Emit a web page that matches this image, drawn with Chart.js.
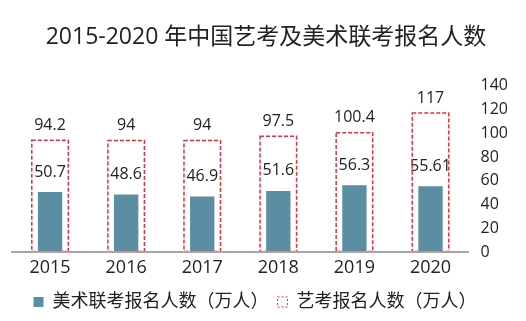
<!DOCTYPE html>
<html>
<head>
<meta charset="utf-8">
<script src="https://cdn.jsdelivr.net/npm/chart.js@4"></script>
<style>
  html, body { margin: 0; padding: 0; background: #fff; }
  #wrap { width: 526px; height: 321px; }
</style>
</head>
<body>
<div id="wrap"><canvas id="chart"></canvas></div>
<script>
// Data
const years = ['2015', '2016', '2017', '2018', '2019', '2020'];
const artExam = [94.2, 94, 94, 97.5, 100.4, 117];
const fineArtsJoint = [50.7, 48.6, 46.9, 51.6, 56.3, 55.61];
const yTicks = [0, 20, 40, 60, 80, 100, 120, 140];

const FONT = '"Open Sans", "Noto Sans CJK SC", sans-serif';
const TEXT = '#222222';
const BAR_COLOR = '#5b8ea3';
const BOX_COLOR = '#e3303c';

// draws dashed outline for the box dataset and value labels for both
const labelPlugin = {
    id: 'labels',
    afterLayout(chart) {
        // legend sits a bit left of centre in the original
        chart.legend.left -= 11;
        chart.legend.right -= 11;
    },
    afterDatasetsDraw(chart) {
        const ctx = chart.ctx;
        chart.data.datasets.forEach((ds, i) => {
            const meta = chart.getDatasetMeta(i);
            meta.data.forEach((el, j) => {
                const { x, y, base, width } = el.getProps(['x', 'y', 'base', 'width'], true);
                ctx.save();
                if (ds.dashedBox) {
                    ctx.strokeStyle = BOX_COLOR;
                    ctx.lineWidth = 1.5;
                    ctx.setLineDash([4, 2]);
                    ctx.strokeRect(x - width / 2, y, width, base - y - 1);
                }
                ctx.setLineDash([]);
                ctx.fillStyle = TEXT;
                ctx.font = '16px ' + FONT;
                ctx.textAlign = 'center';
                ctx.textBaseline = 'middle';
                ctx.fillText(String(ds.data[j]), x, y - (ds.dashedBox ? 15 : 20));
                ctx.restore();
            });
        });
    }
};

new Chart(document.getElementById('chart'), {
    type: 'bar',
    data: {
        labels: years,
        datasets: [{
            label: '美术联考报名人数（万人）',
            data: fineArtsJoint,
            backgroundColor: BAR_COLOR,
            barPercentage: 0.32,
            categoryPercentage: 1,
            grouped: false,
            order: 1
        }, {
            label: '艺考报名人数（万人）',
            data: artExam,
            backgroundColor: 'rgba(0,0,0,0)',
            borderWidth: 0,
            barPercentage: 0.48,
            categoryPercentage: 1,
            grouped: false,
            dashedBox: true,
            order: 2
        }]
    },
    options: {
        responsive: true,
        maintainAspectRatio: false,
        animation: false,
        layout: { padding: { left: 12, right: 6, top: 0, bottom: 0 } },
        plugins: {
            title: {
                display: true,
                text: '2015-2020 年中国艺考及美术联考报名人数',
                color: TEXT,
                font: { family: FONT, size: 23, weight: 'normal' },
                padding: { top: 24, bottom: 34 }
            },
            legend: {
                position: 'bottom',
                labels: {
                    color: TEXT,
                    font: { family: FONT, size: 18 },
                    boxWidth: 10,
                    boxHeight: 10,
                    padding: 9,
                    generateLabels(chart) {
                        return chart.data.datasets.map((ds, i) => ({
                            text: ds.label,
                            datasetIndex: i,
                            fillStyle: ds.dashedBox ? 'rgba(0,0,0,0)' : BAR_COLOR,
                            strokeStyle: ds.dashedBox ? BOX_COLOR : BAR_COLOR,
                            lineWidth: ds.dashedBox ? 1 : 0,
                            lineDash: ds.dashedBox ? [2, 2] : [],
                            fontColor: TEXT
                        }));
                    }
                }
            },
            tooltip: { enabled: false }
        },
        scales: {
            x: {
                grid: { display: false, drawTicks: false },
                border: { display: true, color: '#a6a6a6', width: 2, z: 1 },
                ticks: { color: TEXT, font: { family: FONT, size: 18 }, padding: 5 }
            },
            y: {
                position: 'right',
                min: 0,
                max: 140,
                afterBuildTicks(axis) {
                    axis.ticks = yTicks.map(v => ({ value: v }));
                },
                grid: { display: false, drawTicks: false },
                border: { display: false },
                ticks: { color: TEXT, font: { family: FONT, size: 16 }, padding: 12 }
            }
        }
    },
    plugins: [labelPlugin]
});
</script>
</body>
</html>
